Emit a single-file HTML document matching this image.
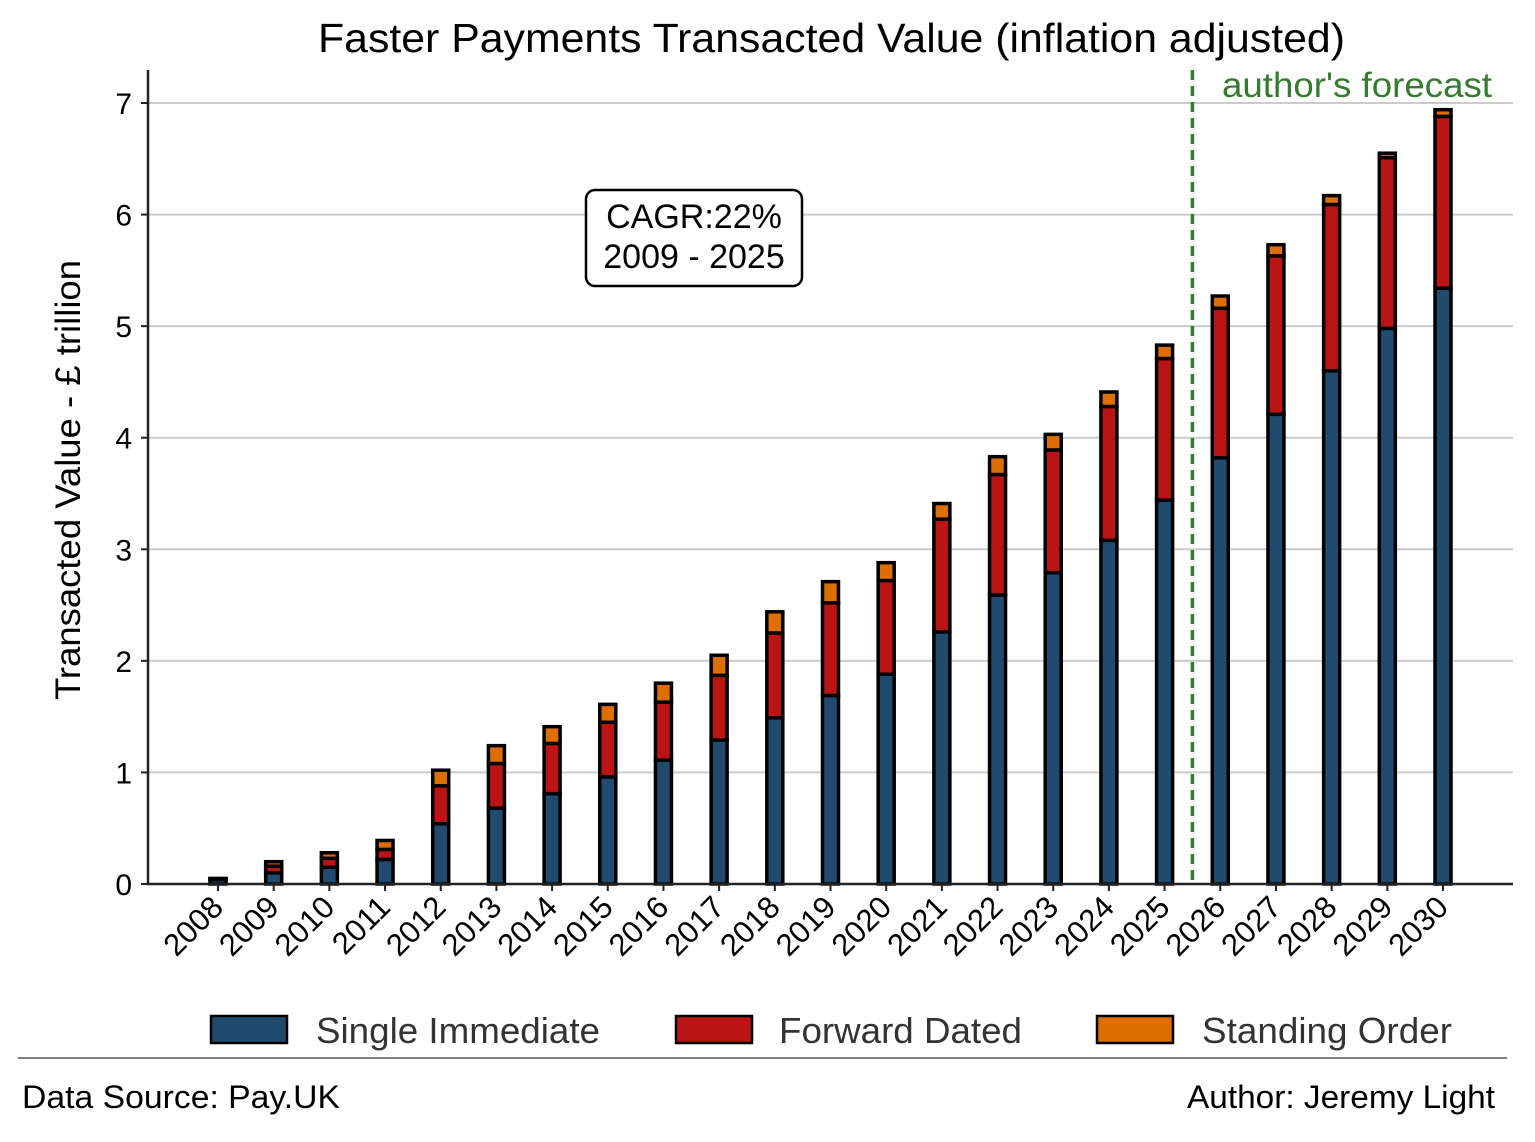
<!DOCTYPE html>
<html><head><meta charset="utf-8"><style>
body{margin:0;background:#fff}
svg{font-family:"Liberation Sans",Arial,sans-serif}
</style></head><body>
<svg id="chart" width="1535" height="1137" viewBox="0 0 1535 1137">
<rect width="1535" height="1137" fill="#fff"/>
<text x="318" y="52" font-size="41" textLength="1027" lengthAdjust="spacingAndGlyphs">Faster Payments Transacted Value (inflation adjusted)</text>
<g id="grid"></g>
<g id="bars"></g>
<g id="axes"></g>
<text transform="translate(80,480) rotate(-90)" font-size="35" text-anchor="middle" textLength="440" lengthAdjust="spacingAndGlyphs">Transacted Value - £ trillion</text>
<g>
<rect x="586" y="190" width="216" height="96" rx="9" fill="#fff" stroke="#000" stroke-width="2.5"/>
<text x="694" y="228" font-size="34" text-anchor="middle">CAGR:22%</text>
<text x="694" y="268" font-size="34" text-anchor="middle">2009 - 2025</text>
</g>
<g>
<rect x="211" y="1016" width="76" height="27" fill="#214a6f" stroke="#000" stroke-width="2.5"/>
<text x="316" y="1043" font-size="36" fill="#333" textLength="284" lengthAdjust="spacingAndGlyphs">Single Immediate</text>
<rect x="676" y="1016" width="76" height="27" fill="#bb1414" stroke="#000" stroke-width="2.5"/>
<text x="779" y="1043" font-size="36" fill="#333" textLength="243" lengthAdjust="spacingAndGlyphs">Forward Dated</text>
<rect x="1097" y="1016" width="76" height="27" fill="#dd6e00" stroke="#000" stroke-width="2.5"/>
<text x="1202" y="1043" font-size="36" fill="#333" textLength="250" lengthAdjust="spacingAndGlyphs">Standing Order</text>
</g>
<line x1="18" y1="1058" x2="1507" y2="1058" stroke="#808080" stroke-width="2"/>
<text x="22" y="1108" font-size="32" textLength="318" lengthAdjust="spacingAndGlyphs">Data Source: Pay.UK</text>
<text x="1187" y="1108" font-size="32" textLength="308" lengthAdjust="spacingAndGlyphs">Author: Jeremy Light</text>
</svg>
<script>
const years=[2008,2009,2010,2011,2012,2013,2014,2015,2016,2017,2018,2019,2020,2021,2022,2023,2024,2025,2026,2027,2028,2029,2030];
const singleImmediate=[0.04,0.10,0.15,0.22,0.54,0.68,0.81,0.96,1.11,1.29,1.49,1.69,1.88,2.26,2.59,2.79,3.08,3.44,3.82,4.21,4.60,4.98,5.34];
const forwardDated=[0.005,0.06,0.08,0.09,0.34,0.40,0.45,0.49,0.52,0.58,0.76,0.83,0.84,1.01,1.08,1.10,1.20,1.27,1.34,1.42,1.49,1.53,1.54];
const standingOrder=[0.005,0.04,0.05,0.08,0.14,0.16,0.15,0.16,0.17,0.18,0.19,0.19,0.16,0.14,0.16,0.14,0.13,0.12,0.11,0.10,0.08,0.04,0.06];
const yTicks=[0,1,2,3,4,5,6,7];
const forecastAfterIndex=17.5;
const NS="http://www.w3.org/2000/svg";
const y0=884,yPer=(884-103)/7,x0=218,xStep=(1443-218)/22,bw=16;
const Y=v=>y0-v*yPer, X=i=>x0+i*xStep;
function mk(tag,attrs,parent){const e=document.createElementNS(NS,tag);for(const k in attrs)e.setAttribute(k,attrs[k]);parent.appendChild(e);return e;}
const grid=document.getElementById('grid'),bars=document.getElementById('bars'),axes=document.getElementById('axes');
yTicks.forEach(t=>{
 if(t>0){const g=mk('line',{x1:148,x2:1513,y1:Y(t),y2:Y(t),stroke:'#cccccc','stroke-width':2},grid);
 
 }
 mk('line',{x1:141,x2:148,y1:Y(t),y2:Y(t),stroke:'#222','stroke-width':2},axes);
 const tx=mk('text',{x:132,y:Y(t)+11,'font-size':30,'text-anchor':'end'},axes);tx.textContent=t;
 
 
});
const cols=['#214a6f','#bb1414','#dd6e00'],names=['single-immediate','forward-dated','standing-order'];
years.forEach((yr,i)=>{
 let base=0;
 [singleImmediate[i],forwardDated[i],standingOrder[i]].forEach((v,s)=>{
  const r=mk('rect',{x:X(i)-bw/2,y:Y(base+v),width:bw,height:v*yPer,fill:cols[s],stroke:'#000','stroke-width':3.5},bars);
  
  
  base+=v;
 });
 mk('line',{x1:X(i),x2:X(i),y1:884,y2:891,stroke:'#222','stroke-width':2},axes);
 const t=mk('text',{x:0,y:0,'font-size':31,'text-anchor':'end',transform:`translate(${X(i)+7},${909}) rotate(-45)`},axes);t.textContent=yr;
 
 
});
const fx=X(forecastAfterIndex);
const fl=mk('line',{x1:fx,x2:fx,y1:70,y2:884,stroke:'#357a2e','stroke-width':3.5,'stroke-dasharray':'10,6'},axes);


const ft=mk('text',{x:1222,y:97,'font-size':35,fill:'#357a2e',textLength:270,lengthAdjust:'spacingAndGlyphs'},axes);ft.textContent="author's forecast";


const ly=mk('line',{x1:148,x2:148,y1:70,y2:885,stroke:'#222','stroke-width':2.5},axes);


const lx=mk('line',{x1:147,x2:1513,y1:884,y2:884,stroke:'#222','stroke-width':2.5},axes);


</script>
</body></html>
